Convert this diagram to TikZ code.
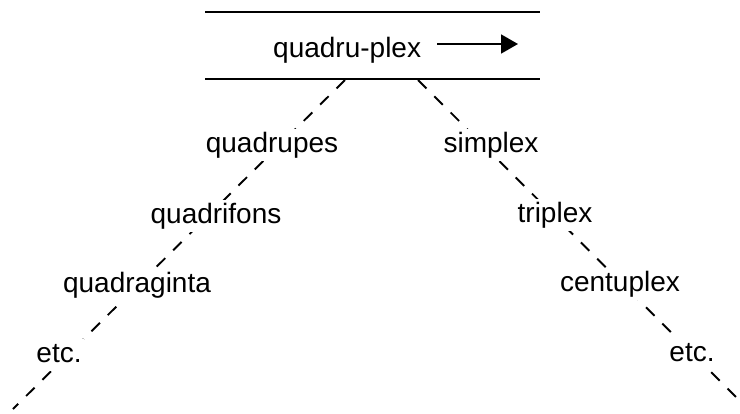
\documentclass[tikz,border=0pt]{standalone}
\usepackage{fontspec}
\setmainfont{Liberation Sans}
\usetikzlibrary{arrows.meta}
\begin{document}
\begin{tikzpicture}[x=1pt,y=-1pt,
  lbl/.style={fill=white,inner xsep=2pt,inner ysep=3pt,text height=20pt,text depth=6pt,font=\fontsize{28}{32}\selectfont},
  bar/.style={line width=2.4pt},
  dline/.style={line width=1.9pt,dash pattern=on 12pt off 11pt},
  arr/.style={line width=1.8pt,-{Triangle[length=17pt,width=19pt]}}]
\useasboundingbox (0,0) rectangle (740,413);
% bars
\coordinate (t1) at (205,12);
\coordinate (t2) at (540,12);
\coordinate (b1) at (205,79);
\coordinate (b2) at (540,79);
\draw[bar] (t1) -- (t2);
\draw[bar] (b1) -- (b2);
\node[font=\fontsize{28}{32}\selectfont,inner sep=0pt,anchor=base west] (qp) at (273,57) {quadru-plex};
\coordinate (a1) at (437,44);
\coordinate (a2) at (518,44);
\draw[arr] (a1) -- (a2);
% dashed lines
\coordinate (ltop) at (345,80);
\coordinate (lbot) at (13,409);
\coordinate (rtop) at (418,80);
\coordinate (rbot) at (740,401);
\draw[dline] (ltop) -- (lbot);
\draw[dline] (rtop) -- (rbot);
% left labels
\node[lbl] (quadrupes) at (272,145) {quadrupes};
\node[lbl] (quadrifons) at (216,216) {quadrifons};
\node[lbl] (quadraginta) at (137,285) {quadraginta};
\node[lbl] (etcl) at (59,355) {etc.};
% right labels
\node[lbl] (simplex) at (491,145) {simplex};
\node[lbl] (triplex) at (555,215) {triplex};
\node[lbl] (centuplex) at (620,284) {centuplex};
\node[lbl] (etcr) at (692,354) {etc.};
\end{tikzpicture}
\end{document}
